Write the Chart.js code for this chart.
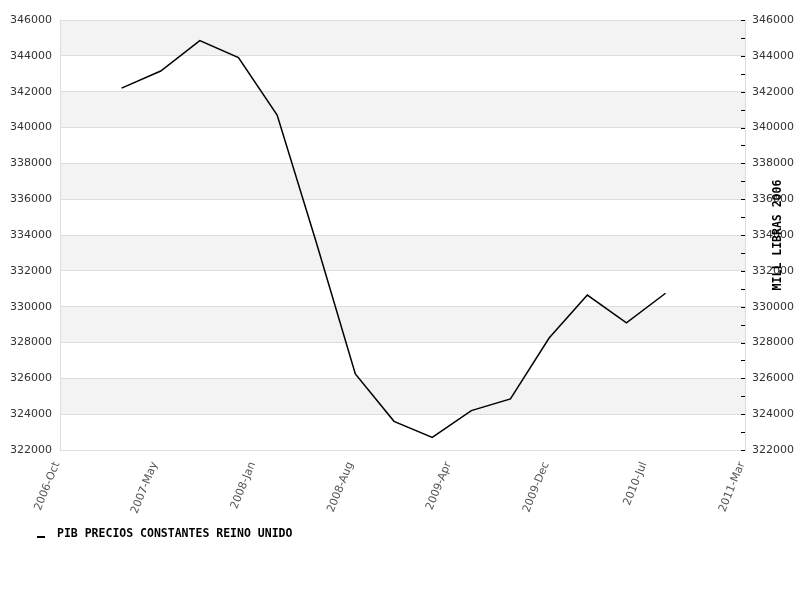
<!DOCTYPE html>
<html>
<head>
<meta charset="utf-8">
<script src="https://cdn.jsdelivr.net/npm/chart.js@4/dist/chart.umd.min.js"></script>
<style>
    html, body { margin: 0; padding: 0; background: #fff; }
    #wrap { width: 800px; height: 600px; }
</style>
</head>
<body>
<div id="wrap"><canvas id="pibChart" width="800" height="600"></canvas></div>
<script>
// PIB trimestral a precios constantes (millones de libras 2006)
const quarters = ["2007-T1", "2007-T2", "2007-T3", "2007-T4", "2008-T1", "2008-T2", "2008-T3", "2008-T4",
    "2009-T1", "2009-T2", "2009-T3", "2009-T4", "2010-T1", "2010-T2", "2010-T3"];
const pibValues = [342200, 343150, 344850, 343900, 340700, 333600, 326250, 323600,
    322700, 324200, 324850, 328250, 330650, 329100, 330750];
const xTickLabels = ["2006-Oct", "2007-May", "2008-Jan", "2008-Aug", "2009-Apr", "2009-Dec", "2010-Jul", "2011-Mar"];
const xStart = [2006, 10, 7];   // año, mes, día del inicio del eje
const xEnd = [2011, 3, 7];
const yMin = 322000, yMax = 346000, yStep = 2000, yMinorStep = 1000;
const seriesLabel = "PIB PRECIOS CONSTANTES REINO UNIDO";
const axisTitle = "MILL LIBRAS 2006";

const DAY = 86400000;
function toDays(y, m, d) { return Date.UTC(y, m - 1, d) / DAY; }

// cada trimestre se fecha el día 1 de su último mes
function quarterToDays(q) {
    const year = parseInt(q.slice(0, 4), 10);
    const qn = parseInt(q.slice(-1), 10);
    return toDays(year, qn * 3, 1);
}

const xMin = toDays(...xStart);
const xMax = toDays(...xEnd);
const points = quarters.map((q, i) => ({ x: quarterToDays(q), y: pibValues[i] }));

const extrasPlugin = {
    id: "extras",
    beforeDraw(chart) {
        const { ctx, chartArea } = chart;
        const y = chart.scales.y;
        ctx.save();
        ctx.fillStyle = "#f3f3f3";
        for (let v = yMin; v < yMax; v += yStep) {
            const idxFromTop = Math.round((yMax - (v + yStep)) / yStep);
            if (idxFromTop % 2 !== 0) continue;
            const top = y.getPixelForValue(v + yStep);
            const bottom = y.getPixelForValue(v);
            ctx.fillRect(chartArea.left, top, chartArea.right - chartArea.left, bottom - top);
        }
        ctx.restore();
    },
    afterDraw(chart) {
        const { ctx, chartArea } = chart;
        const y2 = chart.scales.y2;
        ctx.save();
        // marcas del eje derecho
        ctx.strokeStyle = "#000";
        ctx.lineWidth = 1;
        for (let v = yMin; v <= yMax; v += yMinorStep) {
            const py = Math.round(y2.getPixelForValue(v)) + 0.5;
            ctx.beginPath();
            ctx.moveTo(chartArea.right - 4, py);
            ctx.lineTo(chartArea.right, py);
            ctx.stroke();
        }

        // leyenda
        const ds = chart.data.datasets[0];
        const ly = 536;
        ctx.fillStyle = ds.borderColor;
        ctx.fillRect(37, ly, 8, 2);
        ctx.font = "bold 11.5px 'DejaVu Sans Mono'";
        ctx.textAlign = "left";
        ctx.textBaseline = "middle";
        ctx.fillText(ds.label, 57, ly - 2);

        // titulo del eje derecho (se superpone a las etiquetas como en el original)
        ctx.translate(778, (chartArea.top + chartArea.bottom) / 2);
        ctx.rotate(-Math.PI / 2);
        ctx.fillStyle = "#000";
        ctx.textAlign = "center";
        ctx.fillText(axisTitle, 0, 0);
        ctx.restore();
    }
};

new Chart(document.getElementById("pibChart"), {
    type: "line",
    data: {
        datasets: [{
            label: seriesLabel,
            data: points,
            borderColor: "#000",
            backgroundColor: "#000",
            borderWidth: 1.5,
            pointRadius: 0,
            tension: 0
        }]
    },
    options: {
        responsive: false,
        animation: false,
        layout: { padding: { top: 20, left: 0, right: 0, bottom: 82 } },
        plugins: {
            legend: { display: false },
            tooltip: { enabled: false }
        },
        scales: {
            x: {
                type: "linear",
                min: xMin,
                max: xMax,
                afterBuildTicks(scale) {
                    const n = xTickLabels.length - 1;
                    scale.ticks = xTickLabels.map((l, i) => ({ value: xMin + i * (xMax - xMin) / n }));
                },
                afterFit(scale) { scale.height = 68; },
                ticks: {
                    autoSkip: false,
                    minRotation: 68,
                    maxRotation: 68,
                    padding: 2,
                    labelOffset: -3,
                    color: "#555",
                    font: { family: "'DejaVu Sans'", size: 11 },
                    callback: (v, i) => xTickLabels[i]
                },
                grid: { display: false },
                border: { display: false }
            },
            y: {
                position: "left",
                min: yMin,
                max: yMax,
                afterFit(scale) { scale.width = 60; },
                ticks: {
                    stepSize: yStep,
                    padding: 8,
                    color: "#333",
                    font: { family: "'DejaVu Sans'", size: 11 },
                    callback: v => String(v)
                },
                grid: { color: "#dddddd", drawTicks: false },
                border: { color: "#dddddd" }
            },
            y2: {
                position: "right",
                min: yMin,
                max: yMax,
                afterFit(scale) { scale.width = 55; },
                ticks: {
                    stepSize: yStep,
                    padding: 7,
                    color: "#333",
                    font: { family: "'DejaVu Sans'", size: 11 },
                    callback: v => String(v)
                },
                grid: { drawOnChartArea: false, drawTicks: false },
                border: { color: "#dddddd" }
            }
        }
    },
    plugins: [extrasPlugin]
});
</script>
</body>
</html>
